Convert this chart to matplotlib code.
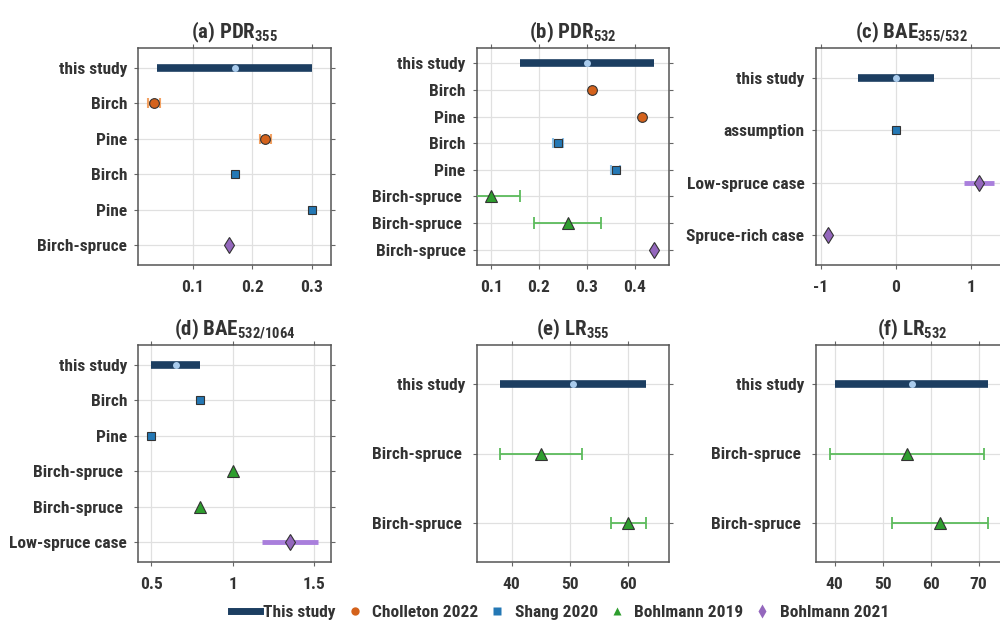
import matplotlib
matplotlib.use('Agg')
import matplotlib.pyplot as plt
from matplotlib import font_manager
from matplotlib.lines import Line2D
from matplotlib.ticker import FormatStrFormatter
import numpy as np

# ---- data ----
a_labels = ['this study', 'Birch', 'Pine', 'Birch', 'Pine', 'Birch-spruce']
a_src = ['this', 'chol', 'chol', 'shang', 'shang', 'b21']
a_val = [0.17, 0.035, 0.222, 0.17, 0.30, 0.16]
a_lo = [0.04, 0.025, 0.212, 0.17, 0.30, 0.16]
a_hi = [0.30, 0.045, 0.232, 0.17, 0.30, 0.16]

b_labels = ['this study', 'Birch', 'Pine', 'Birch', 'Pine',
            'Birch-spruce ', 'Birch-spruce ', 'Birch-spruce']
b_src = ['this', 'chol', 'chol', 'shang', 'shang', 'b19', 'b19', 'b21']
b_val = [0.30, 0.31, 0.415, 0.24, 0.36, 0.10, 0.26, 0.44]
b_lo = [0.16, 0.31, 0.415, 0.23, 0.35, 0.04, 0.19, 0.44]
b_hi = [0.44, 0.31, 0.415, 0.25, 0.37, 0.16, 0.33, 0.44]

c_labels = ['this study', 'assumption', 'Low-spruce case', 'Spruce-rich case']
c_src = ['this', 'shang', 'b21', 'b21']
c_val = [0.0, 0.0, 1.1, -0.9]
c_lo = [-0.5, 0.0, 0.9, -0.9]
c_hi = [0.5, 0.0, 1.3, -0.9]

d_labels = ['this study', 'Birch', 'Pine', 'Birch-spruce ', 'Birch-spruce ',
            'Low-spruce case']
d_src = ['this', 'shang', 'shang', 'b19', 'b19', 'b21']
d_val = [0.65, 0.8, 0.5, 1.0, 0.8, 1.35]
d_lo = [0.5, 0.8, 0.5, 1.0, 0.8, 1.18]
d_hi = [0.8, 0.8, 0.5, 1.0, 0.8, 1.52]

e_labels = ['this study', 'Birch-spruce ', 'Birch-spruce ']
e_src = ['this', 'b19', 'b19']
e_val = [50.5, 45, 60]
e_lo = [38, 38, 57]
e_hi = [63, 52, 63]

f_labels = ['this study', 'Birch-spruce ', 'Birch-spruce ']
f_src = ['this', 'b19', 'b19']
f_val = [56, 55, 62]
f_lo = [40, 39, 52]
f_hi = [72, 71, 72]

sources = ['this', 'chol', 'shang', 'b19', 'b21']
source_names = ['This study', 'Cholleton 2022', 'Shang 2020',
                'Bohlmann 2019', 'Bohlmann 2021']

# ---- fonts ----
installed = {f.name for f in font_manager.fontManager.ttflist}
font = 'DejaVu Sans'
for cand in ['Liberation Sans Narrow', 'Roboto Condensed', 'Open Sans Condensed']:
    if cand in installed:
        font = cand
        break
plt.rcParams['font.family'] = [font, 'DejaVu Sans']
plt.rcParams['font.weight'] = 'bold'
plt.rcParams['mathtext.fontset'] = 'custom'
plt.rcParams['mathtext.rm'] = font + ':bold'
plt.rcParams['mathtext.it'] = font + ':bold'
plt.rcParams['mathtext.bf'] = font + ':bold'
txt = '#333333'
plt.rcParams['text.color'] = txt
plt.rcParams['xtick.color'] = '#666666'
plt.rcParams['ytick.color'] = '#666666'
plt.rcParams['xtick.labelcolor'] = txt
plt.rcParams['ytick.labelcolor'] = txt

col = {'this': '#1c3e61', 'chol': '#d4621c', 'shang': '#2478b5',
       'b19': '#2e9e2e', 'b21': '#9467bd'}
ecol = {'chol': '#f3a263', 'shang': '#8cc2ea', 'b19': '#5cbb5c', 'b21': '#a97fdc'}
mk = {'chol': 'o', 'shang': 's', 'b19': '^', 'b21': 'd'}
ms = {'chol': 7, 'shang': 5.5, 'b19': 8, 'b21': 8.5}

fig = plt.figure(figsize=(10, 6.24), dpi=100)

W, H = 1000.0, 624.0
lefts = [138.3, 476.7, 815.5]
tops = [48, 345]
aw, ah = 192.5, 217


def panel(ax, title, labels, src, val, lo, hi, xlim, xticks):
    y = np.arange(len(labels))
    for yi, s, v, l, h in zip(y, src, val, lo, hi):
        if s == 'this':
            ax.plot([l, h], [yi, yi], color=col['this'], lw=5.5,
                    solid_capstyle='butt', zorder=3)
            ax.plot(v, yi, 'o', color='#a9cbec', ms=5, mec='none', zorder=4)
            continue
        if h > l:
            if s == 'b19':
                ax.errorbar(v, yi, xerr=[[v - l], [h - v]], fmt='none',
                            ecolor=ecol[s], elinewidth=1.3, capsize=4,
                            capthick=1.3, zorder=3)
            elif s == 'b21':
                ax.plot([l, h], [yi, yi], color=ecol[s], lw=3.5,
                        solid_capstyle='butt', zorder=3)
            else:
                ax.errorbar(v, yi, xerr=[[v - l], [h - v]], fmt='none',
                            ecolor=ecol[s], elinewidth=3.5, capsize=3.5,
                            capthick=1.5, zorder=3)
        ax.plot(v, yi, mk[s], color=col[s], ms=ms[s], mec='#333333',
                mew=0.8, zorder=5)
    n = len(labels)
    ax.set_ylim(n - 1 + 0.57, -0.57)
    ax.set_yticks(y)
    ax.set_yticklabels(labels)
    ax.set_xlim(*xlim)
    ax.set_xticks(xticks)
    ax.xaxis.set_major_formatter(FormatStrFormatter('%g'))
    ax.grid(True, color='#e0e0e0', lw=0.9)
    ax.set_axisbelow(True)
    ax.tick_params(axis='both', which='both', direction='out', length=3,
                   top=True, right=True, labelsize=12.5)
    ax.tick_params(axis='x', pad=8)
    ax.tick_params(axis='y', pad=5)
    for sp in ax.spines.values():
        sp.set_color('#555555')
        sp.set_linewidth(1.1)
    ax.set_title(title, fontsize=15, fontweight='bold', pad=7)


specs = [
    ('(a) PDR$_{355}$', a_labels, a_src, a_val, a_lo, a_hi, (0.008, 0.332), [0.1, 0.2, 0.3]),
    ('(b) PDR$_{532}$', b_labels, b_src, b_val, b_lo, b_hi, (0.07, 0.472), [0.1, 0.2, 0.3, 0.4]),
    ('(c) BAE$_{355/532}$', c_labels, c_src, c_val, c_lo, c_hi, (-1.07, 1.49), [-1, 0, 1]),
    ('(d) BAE$_{532/1064}$', d_labels, d_src, d_val, d_lo, d_hi, (0.422, 1.6), [0.5, 1, 1.5]),
    ('(e) LR$_{355}$', e_labels, e_src, e_val, e_lo, e_hi, (34.0, 67.06), [40, 50, 60]),
    ('(f) LR$_{532}$', f_labels, f_src, f_val, f_lo, f_hi, (36.0, 76.1), [40, 50, 60, 70]),
]

for i, sp in enumerate(specs):
    r, c = divmod(i, 3)
    ax = fig.add_axes([lefts[c] / W, 1 - (tops[r] + ah) / H, aw / W, ah / H])
    panel(ax, *sp)

handles = [Line2D([], [], color=col['this'], lw=5)]
for s in sources[1:]:
    handles.append(Line2D([], [], ls='none', marker=mk[s], color=col[s],
                          ms=6 if s != 'b21' else 7, mec='none'))
fig.legend(handles, source_names, loc='center', bbox_to_anchor=(0.56, 0.018),
           ncol=5, frameon=False, fontsize=12.5, handlelength=1.7,
           handletextpad=0.15, columnspacing=0.25)

fig.savefig('out.png', dpi=100)
